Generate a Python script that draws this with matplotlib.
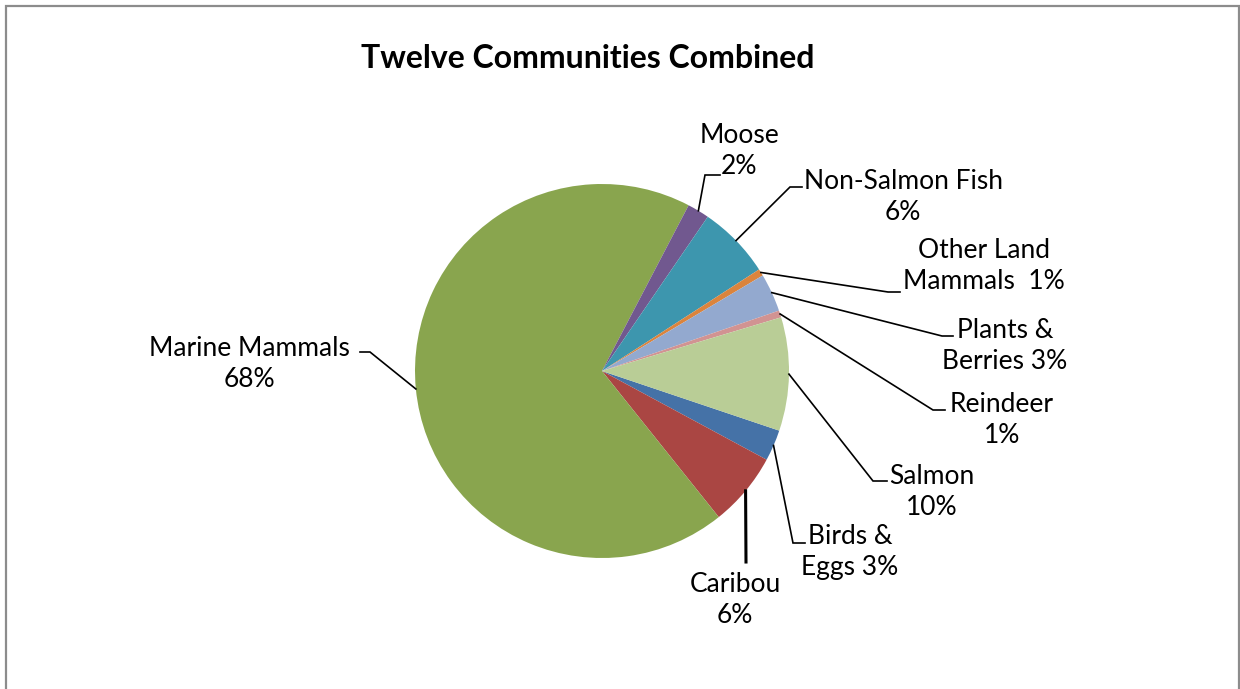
import numpy as np
import matplotlib.pyplot as plt
from matplotlib.patches import Rectangle

# data (alphabetical, as in the source sheet)
names = ["Birds & Eggs", "Caribou", "Marine Mammals", "Moose", "Non-Salmon Fish",
         "Other Land Mammals", "Plants & Berries", "Reindeer", "Salmon"]
shares = [2.7, 6.4, 68.4, 1.9, 6.3, 0.6, 3.3, 0.6, 9.8]
label_text = ["Birds &\nEggs 3%", "Caribou\n6%", "Marine Mammals\n68%", "Moose\n2%",
              "Non-Salmon Fish\n6%", "Other Land\nMammals  1%", "Plants &\nBerries 3%",
              "Reindeer\n1%", "Salmon\n10%"]
colors = ["#4572A7", "#AA4643", "#89A54E", "#71588F", "#3D96AE",
          "#DB843D", "#93A9CF", "#D19392", "#B9CD96"]

W, H = 1240, 689
plt.rcParams['font.family'] = ['Lato', 'DejaVu Sans']

fig = plt.figure(figsize=(W / 100, H / 100), dpi=100)
ax = fig.add_axes([0, 0, 1, 1])

def Y(y):
    return H - y

cx, cy, r = 602, Y(371), 187
start = 90 - 108.6
wedges, _ = ax.pie(shares, colors=colors, startangle=start, counterclock=False,
                   radius=r, center=(cx, cy), frame=True,
                   wedgeprops=dict(linewidth=0))
ax.set_xlim(0, W)
ax.set_ylim(0, H)
ax.set_aspect('equal')
ax.axis('off')

# label layout: text centre (px), elbow point (px), end of horizontal tick (px)
text_pos = [(850, 552), (735, 600), (249, 364), (739, 151), (903, 197),
            (984, 266), (1005, 346), (1002, 420), (932, 492)]
elbow = [(793, 543), (746, 562), (370, 352), (705, 175), (790, 187),
         (888, 292), (942, 336), (933, 410), (873, 481)]
tick_end = [(805, 543), (746, 562), (360, 352), (720, 175), (802, 187),
            (900, 292), (953, 336), (945, 410), (887, 481)]

for i, w in enumerate(wedges):
    mid = np.deg2rad((w.theta1 + w.theta2) / 2)
    x0, y0 = cx + r * np.cos(mid), cy + r * np.sin(mid)
    ex, ey = elbow[i]
    tx, ty = tick_end[i]
    lw = 2.2 if names[i] == "Caribou" else 1.2
    ax.plot([x0, ex, tx], [y0, Y(ey), Y(ty)], color='black', lw=lw,
            solid_joinstyle='miter')
    px, py = text_pos[i]
    ax.text(px, Y(py), label_text[i], ha='center', va='center',
            fontsize=19, linespacing=1.3, color='black')

ax.text(588, Y(59), "Twelve Communities Combined", ha='center', va='center',
        fontsize=23, fontweight='bold', color='black')

ax.add_patch(Rectangle((6, -10), 1233, Y(6) + 10, fill=False,
                       edgecolor='#8c8c8c', lw=1.6))

fig.savefig("out.png", dpi=100)
